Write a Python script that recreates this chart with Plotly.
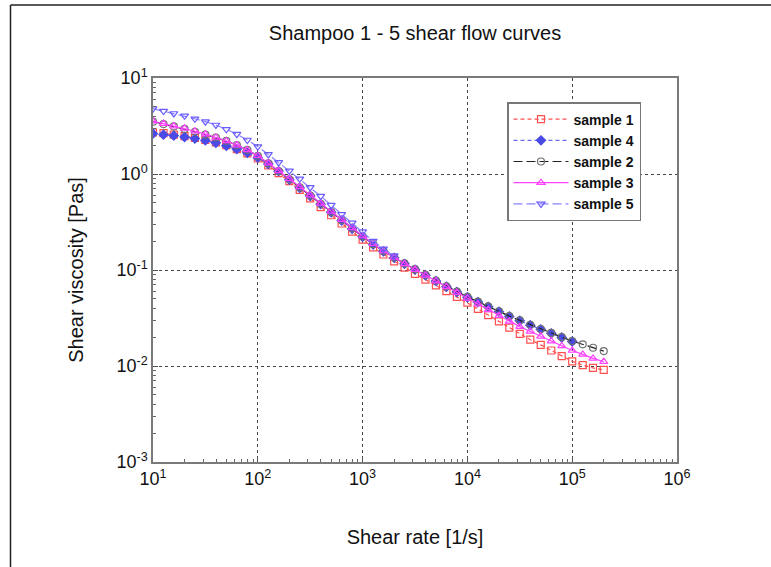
import plotly.graph_objects as go

# Shear rates [1/s]
shear_rate = [10, 12.6, 15.8, 20.0, 25.1, 31.6, 39.8, 50.1, 63.1, 79.4,
              100, 126, 158, 200, 251, 316, 398, 501, 631, 794,
              1000, 1260, 1580, 2000, 2510, 3160, 3980, 5010, 6310, 7940,
              10000, 12600, 15800, 20000, 25100, 31600, 39800, 50100, 63100, 79400,
              100000, 126000, 158000, 200000]

# Shear viscosities [Pas]
sample1 = [2.72, 2.66, 2.57, 2.48, 2.37, 2.26, 2.14, 2.00, 1.82, 1.64,
           1.45, 1.23, 1.02, 0.841, 0.684, 0.556, 0.452, 0.372, 0.305, 0.251,
           0.207, 0.172, 0.145, 0.123, 0.106, 0.0912, 0.0794, 0.0692, 0.0603, 0.0525,
           0.0457, 0.0394, 0.0339, 0.0292, 0.0251, 0.0216, 0.0188, 0.0166, 0.0145, 0.0127,
           0.0112, 0.0102, 0.00955, 0.00912]
sample4 = [2.63, 2.57, 2.51, 2.43, 2.34, 2.24, 2.11, 1.97, 1.82, 1.66,
           1.48, 1.27, 1.07, 0.872, 0.717, 0.590, 0.485, 0.399, 0.328, 0.269,
           0.222, 0.184, 0.156, 0.134, 0.116, 0.101, 0.0882, 0.0768, 0.0669, 0.0590,
           0.0520, 0.0463, 0.0413, 0.0368, 0.0328, 0.0296, 0.0266, 0.0241, 0.0219, 0.0198,
           0.0180]
sample2 = [3.51, 3.31, 3.13, 2.95, 2.75, 2.57, 2.40, 2.21, 2.00, 1.78,
           1.55, 1.29, 1.07, 0.881, 0.724, 0.596, 0.490, 0.403, 0.331, 0.272,
           0.224, 0.186, 0.158, 0.135, 0.117, 0.102, 0.0891, 0.0776, 0.0676, 0.0596,
           0.0525, 0.0468, 0.0417, 0.0372, 0.0331, 0.0299, 0.0269, 0.0243, 0.0221, 0.0200,
           0.0182, 0.0168, 0.0155, 0.0143]
sample3 = [3.55, 3.35, 3.16, 2.99, 2.79, 2.60, 2.40, 2.21, 2.00, 1.78,
           1.55, 1.30, 1.08, 0.891, 0.733, 0.603, 0.495, 0.407, 0.335, 0.275,
           0.226, 0.188, 0.158, 0.135, 0.116, 0.101, 0.0881, 0.0767, 0.0668, 0.0582,
           0.0507, 0.0442, 0.0385, 0.0335, 0.0292, 0.0257, 0.0229, 0.0204, 0.0182, 0.0162,
           0.0145, 0.0132, 0.0120, 0.0111]
sample5 = [4.79, 4.52, 4.27, 4.03, 3.76, 3.51, 3.24, 2.92, 2.60, 2.26,
           1.93, 1.60, 1.32, 1.08, 0.891, 0.724, 0.589, 0.473, 0.380, 0.309,
           0.251, 0.200, 0.166, 0.141]

x_tick_vals = [10, 100, 1000, 10000, 100000, 1000000]
x_tick_text = ["10<sup>1</sup>", "10<sup>2</sup>", "10<sup>3</sup>",
               "10<sup>4</sup>", "10<sup>5</sup>", "10<sup>6</sup>"]
y_tick_vals = [0.001, 0.01, 0.1, 1, 10]
y_tick_text = ["10<sup>-3</sup>", "10<sup>-2</sup>", "10<sup>-1</sup>",
               "10<sup>0</sup>", "10<sup>1</sup>"]

series = [
    ("sample 1", sample1, "#ff4f4f", "square-open", "4px,3px", "#ff4f4f"),
    ("sample 4", sample4, "#4a4ae6", "diamond", "4px,3px", "#6a6af0"),
    ("sample 2", sample2, "#707070", "circle-open", "9px,4px", "#222222"),
    ("sample 3", sample3, "#ff40ff", "triangle-up-open", "solid", "#ff40ff"),
    ("sample 5", sample5, "#6a5cff", "triangle-down-open", "9px,4px", "#8a80ff"),
]

FONT = "Liberation Sans, Arial, sans-serif"

fig = go.Figure()
for name, vals, mcolor, symbol, dash, lcolor in series:
    fig.add_trace(go.Scatter(
        x=shear_rate[:len(vals)], y=vals, name=name, mode="lines+markers",
        line=dict(color=lcolor, width=1.2, dash=dash),
        marker=dict(symbol=symbol, size=7, color=mcolor,
                    line=dict(color=mcolor, width=1.2)),
    ))

axis_common = dict(
    type="log", showline=True, linecolor="#7a7a7a", linewidth=1.5, mirror=True,
    ticks="inside", ticklen=5, tickcolor="#555555",
    minor=dict(ticks="inside", ticklen=3, tickcolor="#666666", showgrid=False, dtick="D1"),
    showgrid=True, gridcolor="#444444", griddash="dot", gridwidth=1,
    zeroline=False,
    tickfont=dict(family=FONT, size=18, color="#111111"),
)

fig.update_layout(
    width=771, height=567,
    margin=dict(l=153, r=94, t=78, b=105),
    paper_bgcolor="white", plot_bgcolor="white",
    font=dict(family=FONT, color="#111111"),
    title=dict(text="Shampoo 1 - 5 shear flow curves", x=(153 + 262) / 771,
               xanchor="center", y=1 - 33 / 567, yanchor="middle",
               font=dict(family=FONT, size=20, color="#111111")),
    xaxis=dict(axis_common, range=[1, 6], tickvals=x_tick_vals, ticktext=x_tick_text,
               title=dict(text="Shear rate [1/s]", standoff=42,
                          font=dict(family=FONT, size=20, color="#111111"))),
    yaxis=dict(axis_common, range=[-3, 1], tickvals=y_tick_vals, ticktext=y_tick_text,
               title=dict(text="Shear viscosity [Pas]", standoff=27,
                          font=dict(family=FONT, size=20, color="#111111"))),
    legend=dict(x=(507 - 153) / 524, y=(462 - 102) / 384, xanchor="left", yanchor="top",
                bgcolor="white", bordercolor="#777777", borderwidth=1.5,
                font=dict(family=FONT, size=14, color="#111111", weight="bold"),
                itemwidth=55, tracegroupgap=0),
    showlegend=True,
)

# Outer frame lines of the figure (left and top edges)
fig.add_shape(type="line", xref="paper", yref="paper",
              x0=(10.5 - 153) / 524, x1=(771 - 153) / 524,
              y0=(462 - 5) / 384, y1=(462 - 5) / 384,
              line=dict(color="#222222", width=1.5))
fig.add_shape(type="line", xref="paper", yref="paper",
              x0=(10.5 - 153) / 524, x1=(10.5 - 153) / 524,
              y0=(462 - 5) / 384, y1=(462 - 567) / 384,
              line=dict(color="#222222", width=1.5))

fig.write_html("out.html", config={"displayModeBar": False},
               post_script="document.body.style.margin='0';"
                           "document.body.style.overflow='hidden';")
